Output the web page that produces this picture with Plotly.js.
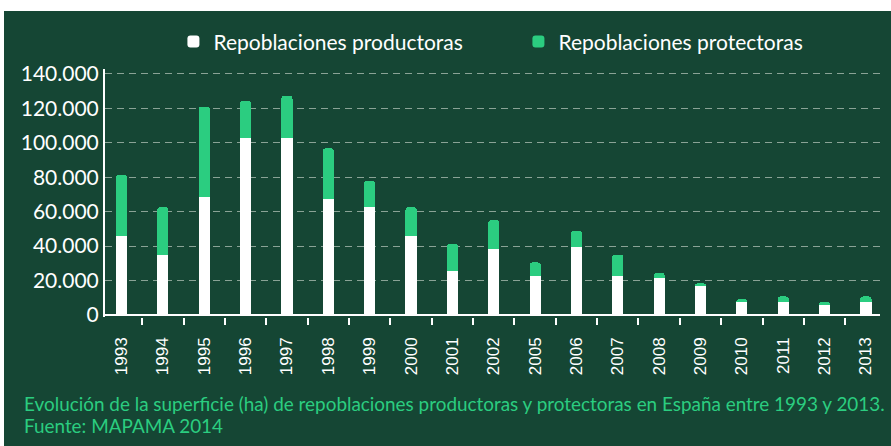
<!DOCTYPE html>
<html>
<head>
<meta charset="utf-8">
<script src="https://cdn.plot.ly/plotly-3.0.1.min.js"></script>
<style>
html,body{margin:0;padding:0;background:#ffffff;}
#chart{position:absolute;left:4px;top:11px;width:887px;height:435px;}
</style>
</head>
<body>
<div id="chart"></div>
<script>
var years = ['1993','1994','1995','1996','1997','1998','1999','2000','2001','2002','2005','2006','2007','2008','2009','2010','2011','2012','2013'];
var productoras = [45700, 35000, 68700, 102700, 102700, 67200, 62600, 45700, 25700, 38200, 22700, 39600, 22700, 21300, 16900, 7300, 7300, 5900, 7300];
var totales = [81200, 62600, 121000, 124400, 127300, 96800, 77900, 62600, 41300, 55100, 30500, 49000, 35100, 24400, 18400, 9200, 10800, 7500, 10800];
var protectoras = totales.map(function(t, i){ return t - productoras[i]; });
var seriesNames = ['Repoblaciones productoras', 'Repoblaciones protectoras'];
var captionLines = ['Evolución de la superficie (ha) de repoblaciones productoras y protectoras en España entre 1993 y 2013.', 'Fuente: MAPAMA 2014'];

var BG = '#154634';
var GREEN = '#2BCD80';

var traces = [
  {type:'bar', name:seriesNames[0], x:years, y:productoras, marker:{color:'#ffffff'}, width:0.27, hoverinfo:'x+y'},
  {type:'bar', name:seriesNames[1], x:years, y:protectoras, marker:{color:GREEN}, width:0.27, hoverinfo:'x+y'}
];

var capFont = {family:'Lato', size:18.9, color:GREEN};

var layout = {
  width:887, height:435,
  paper_bgcolor:BG, plot_bgcolor:BG,
  margin:{l:101, r:11, t:58, b:129, pad:0, autoexpand:false},
  barmode:'stack',
  barcornerradius:3,
  separators:',.',
  font:{family:'Lato, sans-serif', color:'#ffffff'},
  showlegend:true,
  legend:{orientation:'h', xref:'container', yref:'container', x:0.191, xanchor:'left', y:0.929, yanchor:'middle',
          font:{family:'Lato', size:21, color:'#ffffff'}, bgcolor:'rgba(0,0,0,0)',
          traceorder:'normal', entrywidth:300},
  xaxis:{type:'category', range:[-0.4, 18.34], showgrid:false, showline:false, zeroline:false,
         ticks:'outside', tickson:'boundaries', ticklen:7, tickwidth:2, tickcolor:'#ffffff',
         tickangle:-90, ticklabelstandoff:16, tickfont:{family:'Liberation Sans, Arial', size:17, color:'#ffffff'},
         fixedrange:true},
  yaxis:{range:[-1163, 142900], dtick:20000, tick0:0, tickformat:',d',
         showline:true, linecolor:'#ffffff', linewidth:2,
         zeroline:true, zerolinecolor:'#ffffff', zerolinewidth:2,
         showgrid:true, gridcolor:'#8aa396', gridwidth:1, griddash:'7px,5px',
         ticks:'', tickfont:{family:'Lato', size:21, color:'#ffffff'}, fixedrange:true},
  annotations:[
    {xref:'paper', yref:'paper', x:-0.1071, y:-0.35, xanchor:'left', yanchor:'middle',
     align:'left', showarrow:false, text:captionLines[0], font:capFont},
    {xref:'paper', yref:'paper', x:-0.1071, y:-0.4385, xanchor:'left', yanchor:'middle',
     align:'left', showarrow:false, text:captionLines[1], font:capFont}
  ]
};

Plotly.newPlot('chart', traces, layout, {displayModeBar:false, staticPlot:true});
</script>
</body>
</html>
